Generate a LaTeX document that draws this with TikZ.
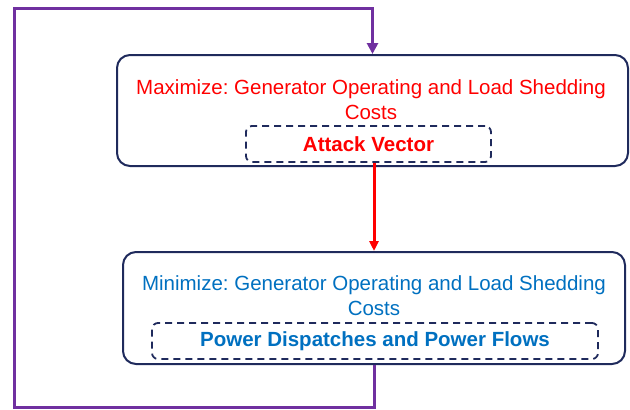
\documentclass[tikz,border=0pt]{standalone}
\usepackage{fontspec}
\setmainfont{Liberation Sans}
\frenchspacing
\usetikzlibrary{arrows.meta}
\definecolor{navy}{HTML}{1F2A5C}
\definecolor{myred}{HTML}{FF0000}
\definecolor{myblue}{HTML}{0070C0}
\definecolor{mypurple}{HTML}{7030A0}
\tikzset{
  outerbox/.style={draw=navy, line width=2pt, rounded corners=13pt, inner sep=0pt},
  dashbox/.style={draw=navy, line width=1.8pt, dash pattern=on 7pt off 5pt, rounded corners=6pt, inner sep=0pt},
  lbl/.style={font=\fontsize{20.5}{25}\selectfont, align=center, inner sep=0pt},
  blbl/.style={font=\fontsize{20.5}{25}\selectfont\bfseries, align=center, inner sep=0pt},
  flow/.style={line width=3pt, -{Triangle[length=10pt,width=9pt]}}
}
\begin{document}
\begin{tikzpicture}[x=1pt,y=-1pt]
\useasboundingbox (0,0) rectangle (630,410);
\node[outerbox, minimum width=511pt, minimum height=111pt] (top) at (372.5,110.5) {};
\node[dashbox, minimum width=245pt, minimum height=36pt] (dtop) at (368.5,144) {};
\node[lbl, text=myred] (ttop) at (371,99.5) {Maximize: Generator Operating and Load Shedding\\Costs};
\node[blbl, text=myred] (atk) at (368.5,144) {Attack Vector};

\node[outerbox, minimum width=502pt, minimum height=112pt] (bot) at (374,308) {};
\node[dashbox, minimum width=446pt, minimum height=36pt] (dbot) at (375,341) {};
\node[lbl, text=myblue] (tbot) at (374,295.5) {Minimize: Generator Operating and Load Shedding\\Costs};
\node[blbl, text=myblue] (pdf) at (375,341) {Power Dispatches and Power Flows};

\draw[flow, myred] (bot.north |- dtop.south) -- (bot.north);

\coordinate (c1) at (374,407);
\coordinate (c2) at (14,407);
\coordinate (c3) at (14,8);
\draw[mypurple, line width=3pt, -{Triangle[length=11pt,width=11pt]}] (bot.south) -- (c1) -- (c2) -- (c3) -| (top.north);
\end{tikzpicture}
\end{document}
